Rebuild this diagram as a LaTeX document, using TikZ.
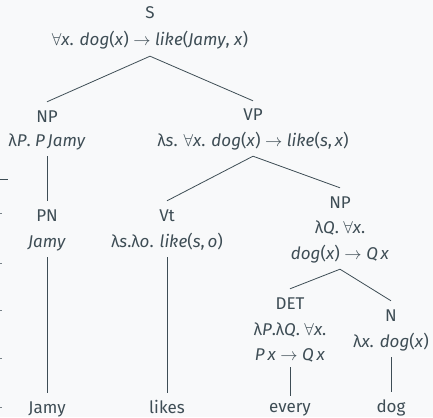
\documentclass[tikz,border=0pt]{standalone}
\usepackage{fontspec}
\setmainfont{Fira Sans}
\definecolor{ink}{HTML}{3E4D55}
\definecolor{bg}{HTML}{F8F9FA}
\newcommand{\fa}{$\forall$}
\newcommand{\ar}{ $\to$ }
\begin{document}
\begin{tikzpicture}[x=1pt,y=-1pt,
  every node/.style={text=ink,font=\fontsize{17}{20}\selectfont,inner xsep=0pt,anchor=base},
  lab/.style={text height=12pt,text depth=4pt,inner ysep=8pt},
  sem/.style={text height=12pt,text depth=4pt,inner ysep=6pt},
  edge/.style={draw=ink,line width=0.8pt}]
\fill[bg] (0,0) rectangle (433,417);
\useasboundingbox (0,0) rectangle (433,417);
% left-edge ticks
\draw[ink,line width=0.8pt] (0,179) -- (8,179);
\foreach \yy in {213,263,310,358,407} \draw[ink!70,line width=0.8pt] (0,\yy) -- (2,\yy);
% nodes
\node[lab] (S) at (150,19) {S};
\node[sem] (Ssem) at (150,46) {\fa\textit{x}. \textit{dog}(\textit{x})\ar\textit{like}(\textit{Jamy}, \textit{x})};
\node[lab] (NP) at (47,122) {NP};
\node[sem] (NPsem) at (47,146) {λ\textit{P}. \textit{P}\,\textit{Jamy}};
\node[lab] (VP) at (253,121) {VP};
\node[sem] (VPsem) at (253,146) {λ\textit{s}. \fa\textit{x}. \textit{dog}(\textit{x})\ar\textit{like}(\textit{s},\,\textit{x})};
\node[lab] (PN) at (47,221) {PN};
\node[sem] (PNsem) at (47,247) {\textit{Jamy}};
\node[lab] (Vt) at (167,221) {Vt};
\node[sem] (Vtsem) at (167,247) {λ\textit{s}.λ\textit{o}. \textit{like}(\textit{s},\,\textit{o})};
\node[lab] (NPb) at (340,208) {NP};
\node[sem] (NPbsemA) at (340,233) {λ\textit{Q}. \fa\textit{x}.};
\node[sem] (NPbsem) at (340,259) {\textit{dog}(\textit{x})\ar\textit{Q}\,\textit{x}};
\node[lab] (DET) at (290,309) {DET};
\node[sem] (DETsemA) at (290,335) {λ\textit{P}.λ\textit{Q}. \fa\textit{x}.};
\node[sem,inner ysep=3pt] (DETsem) at (290,360) {\textit{P}\,\textit{x}\ar\textit{Q}\,\textit{x}};
\node[lab] (N) at (391,321) {N};
\node[sem] (Nsem) at (391,347) {λ\textit{x}. \textit{dog}(\textit{x})};
\node[lab] (wJamy) at (47,413) {Jamy};
\node[lab] (wlikes) at (167,413) {likes};
\node[lab,inner ysep=4pt] (wevery) at (290,412) {every};
\node[lab] (wdog) at (391,412) {dog};
% edges
\draw[edge] (Ssem.south) -- (NP.north);
\draw[edge] (Ssem.south) -- (VP.north);
\draw[edge] (NPsem.south) -- (PN.north);
\draw[edge] (VPsem.south) -- (Vt.north);
\draw[edge] (VPsem.south) -- (NPb.north);
\draw[edge] (NPbsem.south) -- (DET.north);
\draw[edge] (NPbsem.south) -- (N.north);
\draw[edge] (PNsem.south) -- (wJamy.north);
\draw[edge] (Vtsem.south) -- (wlikes.north);
\draw[edge] (DETsem.south) -- (wevery.north);
\draw[edge] (Nsem.south) -- (wdog.north);
\end{tikzpicture}
\end{document}
